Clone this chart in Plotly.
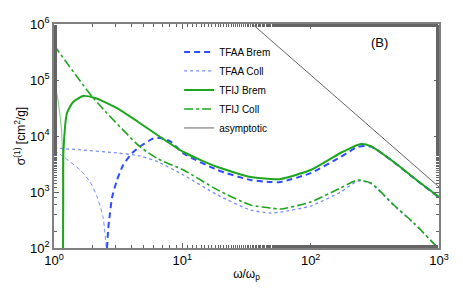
import plotly.graph_objects as go

# ---- data (omega/omega_p, sigma in cm^2/g) ----
tfaa_brem_x = [2.59, 2.64, 2.69, 2.84, 3.1, 3.46, 4.07, 4.87, 5.93, 6.73, 8.06, 10.2, 18.8, 34, 48.7, 58.3, 100, 171, 233, 294, 445, 638, 1000]
tfaa_brem_y = [100, 210, 316, 813, 1640, 3030, 4970, 6900, 9000, 9200, 8000, 4900, 2470, 1640, 1510, 1510, 2180, 4220, 6370, 6500, 3400, 1760, 805]

tfaa_coll_x = [1.0, 1.69, 3.1, 4.7, 6.49, 10.2, 18.8, 34, 48.7, 58.3, 100, 171, 233, 294, 445, 638, 1000]
tfaa_coll_y = [6100, 5620, 4970, 4400, 3430, 2010, 884, 477, 422, 439, 562, 1000, 1570, 1420, 570, 272, 97]

tfij_brem_x = [1.176, 1.18, 1.186, 1.264, 1.41, 1.685, 2.09, 3.1, 4.53, 6.73, 10.2, 18.8, 34, 48.7, 58.3, 100, 171, 246, 294, 445, 638, 1000]
tfij_brem_y = [100, 720, 5600, 25800, 40500, 51800, 47700, 31600, 17800, 9600, 5180, 2790, 1850, 1710, 1710, 2470, 4970, 7200, 6600, 3430, 1780, 815]

tfij_coll_x = [1.0, 2.02, 4.7, 6.49, 10.2, 18.8, 34, 48.7, 58.3, 100, 171, 233, 294, 445, 638, 982]
tfij_coll_y = [420000, 47800, 6370, 3880, 2470, 1090, 586, 518, 497, 663, 1180, 1640, 1450, 586, 279, 100]

asym_x = [35.1, 1000]
asym_y = [1.0e6, 1230]

# unlabelled thin curves near omega_p
thin_green_x = [1.0, 1.036, 1.075, 1.114, 1.144, 1.165, 1.176, 1.177]
thin_green_y = [100000, 66000, 44000, 23700, 12800, 5600, 720, 100]

thin_blue_x = [1.0, 1.22, 1.6, 1.91, 2.17, 2.41, 2.55]
thin_blue_y = [5600, 4050, 2470, 1510, 815, 358, 105]

x_tickvals = [1, 10, 100, 1000]
x_ticktext = ["10<sup>0</sup>", "10<sup>1</sup>", "10<sup>2</sup>", "10<sup>3</sup>"]
y_tickvals = [1e2, 1e3, 1e4, 1e5, 1e6]
y_ticktext = ["10<sup>2</sup>", "10<sup>3</sup>", "10<sup>4</sup>", "10<sup>5</sup>", "10<sup>6</sup>"]

BLUE = "rgb(45,75,255)"
LBLUE = "rgb(120,140,255)"
GREEN = "rgb(30,165,30)"
LGREEN = "rgb(120,200,120)"

fig = go.Figure()
fig.add_trace(go.Scatter(x=thin_green_x, y=thin_green_y, mode="lines", showlegend=False,
                         line=dict(color=LGREEN, width=1), hoverinfo="skip"))
fig.add_trace(go.Scatter(x=thin_blue_x, y=thin_blue_y, mode="lines", showlegend=False,
                         line=dict(color=LBLUE, width=1, dash="4px,3px", shape="spline", smoothing=0.6), hoverinfo="skip"))
fig.add_trace(go.Scatter(x=tfaa_brem_x, y=tfaa_brem_y, mode="lines", name="TFAA Brem",
                         line=dict(color=BLUE, width=2, dash="6px,4px", shape="spline", smoothing=0.6)))
fig.add_trace(go.Scatter(x=tfaa_coll_x, y=tfaa_coll_y, mode="lines", name="TFAA Coll",
                         line=dict(color=LBLUE, width=1.3, dash="dot", shape="spline", smoothing=0.6)))
fig.add_trace(go.Scatter(x=tfij_brem_x, y=tfij_brem_y, mode="lines", name="TFIJ Brem",
                         line=dict(color=GREEN, width=2, shape="spline", smoothing=0.6)))
fig.add_trace(go.Scatter(x=tfij_coll_x, y=tfij_coll_y, mode="lines", name="TFIJ Coll",
                         line=dict(color=GREEN, width=1.6, dash="dashdot", shape="spline", smoothing=0.6)))
fig.add_trace(go.Scatter(x=asym_x, y=asym_y, mode="lines", name="asymptotic",
                         line=dict(color="rgb(60,60,60)", width=0.8)))

axis_common = dict(
    showgrid=False, zeroline=False, showline=True, linecolor="rgb(128,128,128)", linewidth=1.5,
    mirror="allticks", ticks="inside", ticklen=5, tickcolor="rgb(100,100,100)", tickwidth=1,
    minor=dict(ticks="inside", ticklen=3, tickcolor="rgb(100,100,100)", tickwidth=1),
    tickfont=dict(family="Liberation Sans, Arial, sans-serif", size=13, color="black"),
    automargin=False,
)

fig.update_xaxes(type="log", range=[0, 3], tickvals=x_tickvals, ticktext=x_ticktext,
                 title=dict(text="ω/ω<sub>p</sub>", font=dict(size=12, color="black"), standoff=2),
                 **axis_common)
fig.update_yaxes(type="log", range=[2, 6], tickvals=y_tickvals, ticktext=y_ticktext,
                 title=dict(text="σ<sup>(1)</sup> [cm<sup>2</sup>/g]", font=dict(size=12, color="black"), standoff=2),
                 **axis_common)

fig.add_annotation(x=0.845, y=0.96, xref="paper", yref="paper", text="(B)", showarrow=False,
                   font=dict(size=13, color="black"), xanchor="center", yanchor="top")

# the page body adds an 8px offset, so the figure is 8px smaller than the window
fig.update_layout(
    width=455, height=282,
    margin=dict(l=46, r=24, t=16, b=42),
    paper_bgcolor="white", plot_bgcolor="white",
    font=dict(family="Liberation Sans, Arial, sans-serif", color="black"),
    legend=dict(x=0.325, y=0.94, xanchor="left", yanchor="top", bgcolor="rgba(0,0,0,0)",
                font=dict(size=10), itemwidth=30, tracegroupgap=0),
)

fig.write_html("out.html")
